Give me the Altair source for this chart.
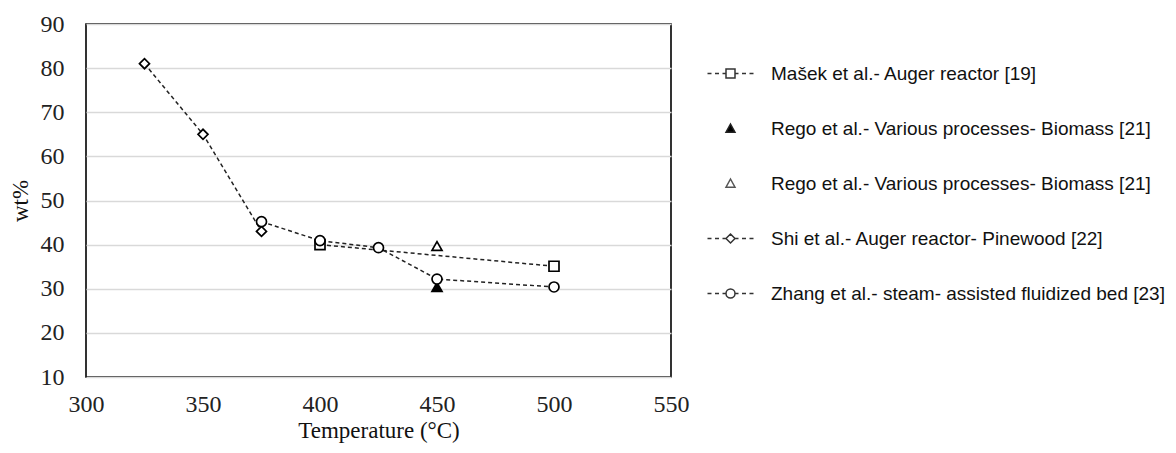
import json
import altair as alt
import pandas as pd

# ---- data ----
series_ids = ["masek", "rego_filled", "rego_open", "shi", "zhang"]
series_labels = [
    "Mašek et al.- Auger reactor [19]",
    "Rego et al.- Various processes- Biomass [21]",
    "Rego et al.- Various processes- Biomass [21]",
    "Shi et al.- Auger reactor- Pinewood [22]",
    "Zhang et al.- steam- assisted fluidized bed [23]",
]
masek_x = [400, 500]
masek_y = [40.0, 35.1]
rego_filled_x = [450]
rego_filled_y = [30.4]
rego_open_x = [450]
rego_open_y = [39.7]
shi_x = [325, 350, 375]
shi_y = [81.0, 65.0, 43.0]
zhang_x = [375, 400, 425, 450, 500]
zhang_y = [45.2, 40.9, 39.3, 32.2, 30.4]
x_ticks = [300, 350, 400, 450, 500, 550]
y_ticks = [10, 20, 30, 40, 50, 60, 70, 80, 90]

rows = []
for sid, xs, ys in [
    ("masek", masek_x, masek_y),
    ("rego_filled", rego_filled_x, rego_filled_y),
    ("rego_open", rego_open_x, rego_open_y),
    ("shi", shi_x, shi_y),
    ("zhang", zhang_x, zhang_y),
]:
    for xv, yv in zip(xs, ys):
        rows.append({"series": sid, "temp": xv, "wt": yv})
df = pd.DataFrame(rows)
lined = df[df["series"].isin(["masek", "shi", "zhang"])]

# marker shapes in the plot
plot_shapes = ["square", "triangle-up", "triangle-up", "diamond", "circle"]
fills = ["white", "black", "white", "white", "white"]
strokes = ["#333333", "#222222", "#555555", "#333333", "#333333"]

# legend symbols: dashes + marker as custom paths
dash = "M-4.6,0H-3.8M-3.1,0H-2.3M2.3,0H3.1M3.8,0H4.6"
legend_paths = [
    dash + "M-1.6,0H-0.9M0.9,0H1.6M-0.9,-0.9H0.9V0.9H-0.9Z",
    "M0,-0.9L0.9,0.75L-0.9,0.75Z",
    "M0,-0.9L0.9,0.75L-0.9,0.75Z",
    dash + "M-1.6,0H-0.9M0.9,0H1.6M0,-0.9L0.9,0L0,0.9L-0.9,0Z",
    dash + "M-1.6,0H-0.9M0.9,0H1.6M0.9,0A0.9,0.9 0 1,1 -0.9,0A0.9,0.9 0 1,1 0.9,0Z",
]

label_expr = "{}[indexof({}, datum.value)]".format(
    json.dumps(series_labels, ensure_ascii=False), json.dumps(series_ids)
)

serif = "Liberation Serif"
sans = "Liberation Sans"

x_enc = alt.X(
    "temp:Q",
    scale=alt.Scale(domain=[300, 550], nice=False),
    axis=alt.Axis(values=x_ticks, title="Temperature (°C)", grid=False),
)
y_enc = alt.Y(
    "wt:Q",
    scale=alt.Scale(domain=[10, 90], nice=False),
    axis=alt.Axis(values=y_ticks, title="wt%", grid=True),
)

lines = alt.Chart(lined).mark_line(
    color="#222222", strokeDash=[4, 3], strokeWidth=1.5
).encode(x=x_enc, y=y_enc, detail="series:N")

points = alt.Chart(df).mark_point(
    stroke="black", strokeWidth=1.7, opacity=1, filled=False, size=100
).encode(
    x=x_enc,
    y=y_enc,
    shape=alt.Shape("series:N", scale=alt.Scale(domain=series_ids, range=plot_shapes), legend=None),
    fill=alt.Fill("series:N", scale=alt.Scale(domain=series_ids, range=fills), legend=None),
)

leg_props = dict(
    title=None, orient="none", legendX=635, legendY=40,
    labelExpr=label_expr, labelFont=sans, labelFontSize=19,
    labelColor="#111111", labelOffset=31, labelLimit=600,
    rowPadding=35, symbolSize=100, symbolOpacity=1,
    symbolStrokeWidth=1.5,
)

legend_layer = alt.Chart(df).transform_filter(
    "datum.wt > 1000"
).mark_point(
    strokeWidth=1.5, size=100
).encode(
    x=x_enc,
    y=y_enc,
    shape=alt.Shape(
        "series:N",
        scale=alt.Scale(domain=series_ids, range=legend_paths),
        legend=alt.Legend(**leg_props),
    ),
    fill=alt.Fill(
        "series:N",
        scale=alt.Scale(domain=series_ids, range=fills),
        legend=alt.Legend(**leg_props),
    ),
    stroke=alt.Stroke(
        "series:N",
        scale=alt.Scale(domain=series_ids, range=strokes),
        legend=alt.Legend(**leg_props),
    ),
)

chart = (
    alt.layer(lines, points, legend_layer)
    .resolve_scale(shape="independent", fill="independent", stroke="independent")
    .resolve_legend(shape="independent", fill="independent", stroke="independent")
    .properties(
        width=585,
        height=353,
        autosize=alt.AutoSizeParams(type="none"),
        padding={"left": 78, "top": 16, "right": 497, "bottom": 68},
        background="white",
    )
    .configure_view(stroke="black", strokeWidth=1.6)
    .configure_axis(
        ticks=False, domain=False, gridColor="#d9d9d9", gridWidth=1.5,
        labelFont=serif, labelFontSize=24, labelColor="#222222",
        titleFont=serif, titleFontWeight="normal", titleColor="#111111",
    )
    .configure_axisX(labelPadding=15, labelFlush=False, titleFontSize=23, titlePadding=3)
    .configure_axisY(labelPadding=22, titleFontSize=23, titlePadding=8)
)

chart.save("out.html", embed_options={"renderer": "svg", "actions": False})
